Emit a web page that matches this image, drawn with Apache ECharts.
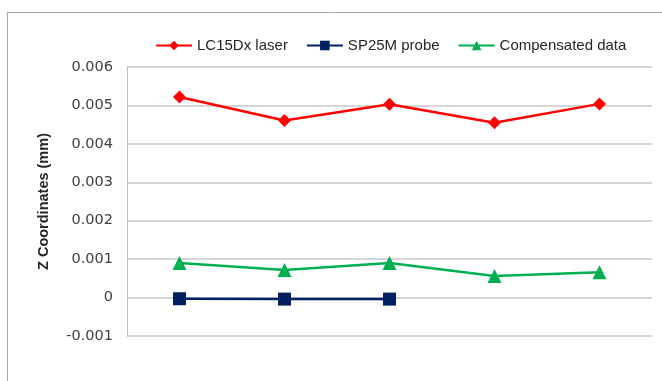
<!DOCTYPE html>
<html><head><meta charset="utf-8">
<script src="https://cdn.jsdelivr.net/npm/echarts@6/dist/echarts.min.js"></script>
<style>html,body{margin:0;padding:0;background:#fff}#c{width:662px;height:381px}</style>
</head><body><div id="c"></div>
<script>
const categories = ['1','2','3','4','5'];
const laser = [0.00522, 0.00461, 0.00503, 0.00455, 0.00504];
const probe = [-0.00003, -0.00004, -0.00004, null, null];
const compensated = [0.0009, 0.00072, 0.0009, 0.00056, 0.00066];
const yTicks = {min: -0.001, max: 0.006, interval: 0.001};
const font = '"Liberation Sans", Arial, sans-serif';
const chart = echarts.init(document.getElementById('c'));
chart.setOption({
  animation: false,
  textStyle: {fontFamily: font},
  graphic: [{type: 'rect', shape: {x: 7.5, y: 12.5, width: 700, height: 400}, style: {fill: 'none', stroke: '#a6a6a6', lineWidth: 1}, z: -1}],
  legend: {
    top: 33, left: 150, itemWidth: 36, itemHeight: 12, itemGap: 18,
    textStyle: {fontSize: 15, color: '#262626', fontFamily: font},
    data: ['LC15Dx laser', 'SP25M probe', 'Compensated data']
  },
  grid: {left: 127, right: 10, top: 67, bottom: 45},
  xAxis: {type: 'category', data: categories, boundaryGap: true,
    axisLine: {show: false}, axisTick: {show: false}, axisLabel: {show: false}},
  yAxis: {type: 'value', min: yTicks.min, max: yTicks.max, interval: yTicks.interval,
    name: 'Z Coordinates (mm)', nameLocation: 'middle', nameGap: 76, nameRotate: 90,
    nameTextStyle: {fontSize: 14.5, fontWeight: 'bold', color: '#262626', fontFamily: font},
    axisLine: {show: true, lineStyle: {color: '#bfbfbf'}}, axisTick: {show: false},
    axisLabel: {fontSize: 14.5, color: '#404040', margin: 14, fontFamily: '"DejaVu Sans", sans-serif',
      formatter: v => { const r = Math.round(v * 1000) / 1000; return r === 0 ? '0' : r.toFixed(3); }},
    splitLine: {lineStyle: {color: '#c8c8c8', width: 1.5}}},
  series: [
    {name: 'LC15Dx laser', type: 'line', data: laser, symbol: 'diamond', symbolSize: 13,
      lineStyle: {color: '#ff0000', width: 2.5}, itemStyle: {color: '#ff0000'}},
    {name: 'SP25M probe', type: 'line', data: probe, symbol: 'rect', symbolSize: 13,
      lineStyle: {color: '#002060', width: 2.5}, itemStyle: {color: '#002060'}},
    {name: 'Compensated data', type: 'line', data: compensated, symbol: 'triangle', symbolSize: 14,
      lineStyle: {color: '#00b050', width: 2.5}, itemStyle: {color: '#00b050'}}
  ]
});
</script></body></html>
